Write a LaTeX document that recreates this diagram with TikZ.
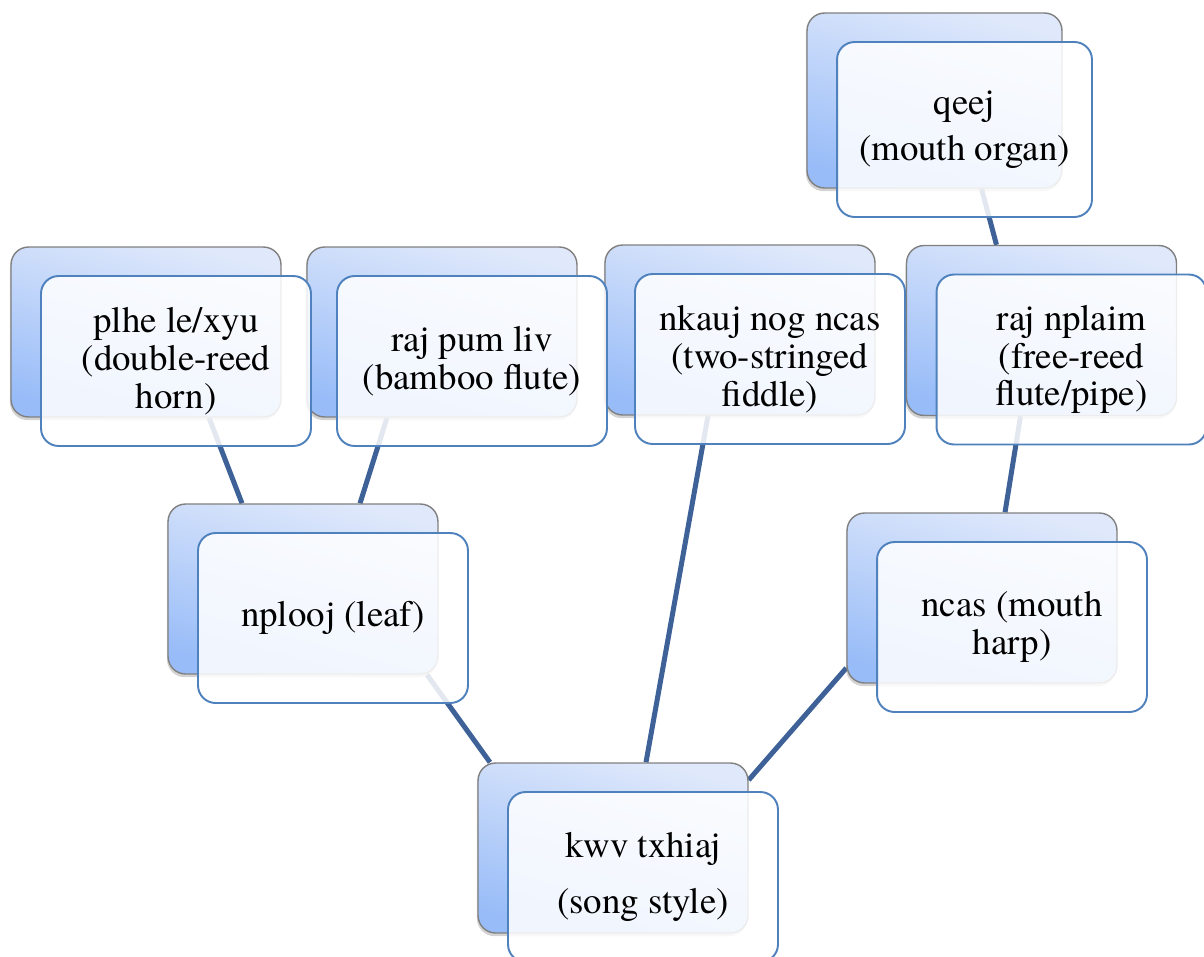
\documentclass[tikz,border=0pt]{standalone}
\usepackage{fontspec}
\setmainfont{texgyretermes}[Extension=.otf, UprightFont=*-regular, BoldFont=*-bold, ItalicFont=*-italic, BoldItalicFont=*-bolditalic]
\usetikzlibrary{calc,shadows,backgrounds}
\definecolor{boxTop}{RGB}{224,233,251}
\definecolor{boxBot}{RGB}{152,188,248}
\definecolor{rimGrey}{RGB}{128,128,128}
\definecolor{rimBlue}{RGB}{79,129,189}
\definecolor{linkBlue}{RGB}{62,98,152}
\tikzset{hmpanel/.style={
  font=\fontsize{21}{21.5}\selectfont,
  back/.style={rounded corners=10pt, draw=rimGrey, line width=0.8pt, top color=boxTop, bottom color=boxBot, shading angle=-15,
    minimum width=5.4cm, minimum height=3.4cm, inner sep=0pt,
    drop shadow={shadow xshift=-0.6pt, shadow yshift=-1.8pt, opacity=0.35}},
  front/.style={rounded corners=10pt, draw=rimBlue, line width=1.1pt, fill=white, fill opacity=0.86, text opacity=1,
    minimum width=5.4cm, minimum height=3.4cm, inner sep=3pt, align=center},
  link/.style={draw=linkBlue, line width=2.85pt},
}}

\begin{document}
\begin{tikzpicture}[hmpanel, x=0.02cm, y=-0.02cm]

\useasboundingbox (0,0) rectangle (1204,957);
\clip (0,0) rectangle (1204,957);

% ---- back plates ----
\node[back, minimum width=5.1cm, minimum height=3.5cm] (qeejB) at (934.5,100.5) {};
\node[back] (plheB)  at (146,332) {};
\node[back] (rajpumB) at (442,332) {};
\node[back] (nkaujB) at (740,330) {};
\node[back] (nplaimB) at (1041.5,330.5) {};
\node[back] (nploojB) at (303,589) {};
\node[back] (ncasB)  at (982,598) {};
\node[back] (kwvB)   at (613,848) {};

% ---- front cards ----
\node[front, minimum width=5.1cm, minimum height=3.5cm] (qeej) at ($(qeejB)+(30,29)$) {qeej\\[5pt](mouth organ)};
\node[front] (plhe)   at ($(plheB)+(30,29)$) {plhe le/xyu\\(double-reed\\horn)};
\node[front] (rajpum) at ($(rajpumB)+(30,29)$) {raj pum liv\\(bamboo flute)};
\node[front] (nkauj)  at ($(nkaujB)+(30,29)$) {nkauj nog ncas\\(two-stringed\\fiddle)};
\node[front] (nplaim) at ($(nplaimB)+(30,29)$) {raj nplaim\\(free-reed\\flute/pipe)};
\node[front] (nplooj) at ($(nploojB)+(30,29)$) {nplooj (leaf)};
\node[front] (ncas)   at ($(ncasB)+(30,29)$) {ncas (mouth\\harp)};
\node[front] (kwv)    at ($(kwvB)+(30,29)$) {kwv txhiaj\\[10pt](song style)};

% ---- tree links, behind everything ----
\begin{pgfonlayer}{background}
\draw[link] ($(plheB.south)+(63,0)$)    -- ($(nploojB.north)+(-61,0)$);
\draw[link] ($(rajpumB.south)+(-55,0)$) -- ($(nploojB.north)+(57,0)$);
\draw[link] ($(nploojB.south)+(124,0)$) -- ($(kwvB.north)+(-123,0)$);
\draw[link] ($(nkaujB.south)+(-32,0)$)  -- ($(kwvB.north)+(33,0)$);
\draw[link] ($(qeejB.south)+(47,0)$)    -- ($(nplaimB.north)+(-45,0)$);
\draw[link] ($(nplaimB.south)+(-21,0)$) -- ($(ncasB.north)+(23,0)$);
\draw[link] ($(ncasB.west)+(0,70)$)     -- ($(kwvB.east)+(0,-68)$);
\end{pgfonlayer}

\end{tikzpicture}
\end{document}
